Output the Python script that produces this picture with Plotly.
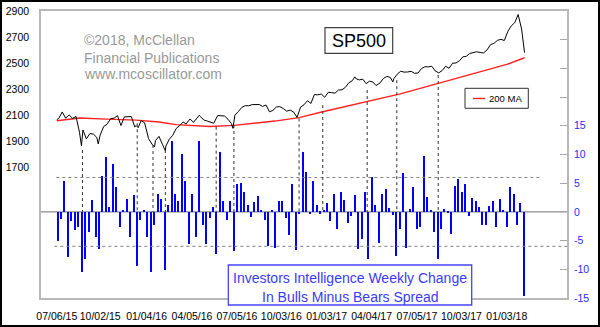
import pandas as pd
import plotly.graph_objects as go

# ---- S&P 500 closes (weekly, plus a few daily turning points) ----
sp_dates = [
    "2015-07-06", "2015-07-10", "2015-07-17", "2015-07-24", "2015-07-31", "2015-08-07",
    "2015-08-14", "2015-08-21", "2015-08-25", "2015-08-28", "2015-09-04", "2015-09-11",
    "2015-09-18", "2015-09-25", "2015-09-28", "2015-10-02", "2015-10-09", "2015-10-16",
    "2015-10-23", "2015-10-30", "2015-11-06", "2015-11-13", "2015-11-20", "2015-11-27",
    "2015-12-04", "2015-12-11", "2015-12-14", "2015-12-18", "2015-12-24", "2015-12-31",
    "2016-01-08", "2016-01-15", "2016-01-20", "2016-01-22", "2016-01-29", "2016-02-05",
    "2016-02-11", "2016-02-12", "2016-02-19", "2016-02-26", "2016-03-04", "2016-03-11",
    "2016-03-18", "2016-03-24", "2016-04-01", "2016-04-08", "2016-04-15", "2016-04-20",
    "2016-04-22", "2016-04-29", "2016-05-06", "2016-05-13", "2016-05-19", "2016-05-27",
    "2016-06-03", "2016-06-10", "2016-06-17", "2016-06-24", "2016-06-27", "2016-07-01",
    "2016-07-08", "2016-07-15", "2016-07-22", "2016-07-29", "2016-08-05", "2016-08-12",
    "2016-08-19", "2016-08-26", "2016-09-02", "2016-09-09", "2016-09-16", "2016-09-23",
    "2016-09-30", "2016-10-07", "2016-10-14", "2016-10-21", "2016-10-28", "2016-11-04",
    "2016-11-11", "2016-11-18", "2016-11-25", "2016-12-02", "2016-12-09", "2016-12-16",
    "2016-12-23", "2016-12-30", "2017-01-06", "2017-01-13", "2017-01-20", "2017-01-27",
    "2017-02-03", "2017-02-10", "2017-02-17", "2017-02-24", "2017-03-01", "2017-03-03",
    "2017-03-10", "2017-03-17", "2017-03-24", "2017-03-31", "2017-04-07", "2017-04-13",
    "2017-04-21", "2017-04-28", "2017-05-05", "2017-05-12", "2017-05-17", "2017-05-19",
    "2017-05-26", "2017-06-02", "2017-06-09", "2017-06-16", "2017-06-23", "2017-06-30",
    "2017-07-07", "2017-07-14", "2017-07-21", "2017-07-28", "2017-08-04", "2017-08-11",
    "2017-08-18", "2017-08-25", "2017-09-01", "2017-09-08", "2017-09-15", "2017-09-22",
    "2017-09-29", "2017-10-06", "2017-10-13", "2017-10-20", "2017-10-27", "2017-11-03",
    "2017-11-10", "2017-11-17", "2017-11-24", "2017-12-01", "2017-12-08", "2017-12-15",
    "2017-12-22", "2017-12-29", "2018-01-05", "2018-01-12", "2018-01-19", "2018-01-26",
    "2018-02-02", "2018-02-05", "2018-02-08",
]
sp_close = [
    2068, 2077, 2127, 2079, 2104, 2078,
    2092, 1971, 1868, 1989, 1921, 1961,
    1958, 1932, 1882, 1951, 2015, 2033,
    2075, 2079, 2099, 2023, 2089, 2090,
    2092, 2012, 2022, 2006, 2061, 2044,
    1922, 1880, 1859, 1907, 1940, 1880,
    1829, 1865, 1918, 1948, 2000, 2022,
    2050, 2035, 2073, 2048, 2081, 2102,
    2092, 2065, 2057, 2047, 2040, 2099,
    2099, 2096, 2071, 2037, 2001, 2103,
    2130, 2162, 2175, 2174, 2183, 2184,
    2184, 2169, 2180, 2128, 2139, 2165,
    2168, 2153, 2133, 2141, 2126, 2085,
    2164, 2182, 2213, 2192, 2260, 2258,
    2264, 2239, 2277, 2275, 2271, 2295,
    2297, 2316, 2351, 2367, 2396, 2383,
    2372, 2378, 2344, 2363, 2355, 2329,
    2349, 2384, 2399, 2391, 2357, 2382,
    2416, 2439, 2432, 2433, 2438, 2423,
    2425, 2459, 2473, 2472, 2477, 2441,
    2426, 2444, 2477, 2461, 2500, 2502,
    2519, 2549, 2553, 2575, 2581, 2588,
    2582, 2579, 2602, 2642, 2652, 2675,
    2683, 2674, 2743, 2786, 2810, 2873,
    2762, 2649, 2581,
]

# ---- 200-day moving average of the S&P 500 ----
ma_dates = [
    "2015-07-06", "2015-08-21", "2015-10-15", "2015-12-14", "2016-01-29",
    "2016-03-04", "2016-05-11", "2016-06-29", "2016-09-20", "2016-11-08",
    "2016-12-26", "2017-03-26", "2017-06-01", "2017-08-17", "2017-10-20",
    "2018-01-03", "2018-02-08",
]
ma_values = [
    2060, 2080, 2072, 2064, 2050,
    2030, 2016, 2024, 2057, 2083,
    2128, 2208, 2265, 2346, 2415,
    2491, 2542,
]

# ---- Investors Intelligence: weekly change in bulls-minus-bears spread ----
ii_first_week = "2015-07-08"
ii_change = [
    -5.1, -1.3, 5.3, -7.8, -1.5, -3.2, -2.6, -10.4, -8.2, -3.5,
    2.1, -4.4, -6.4, 6.2, 9.5, 0.9, 8.4, 4.3, -2.6, 0.3,
    2.2, -4.4, 2.9, -9.4, -1.4, 0.3, -4.3, -10.4, -2.3, 3.1,
    2.2, -10.2, 1.2, 12.3, 3.1, 1.9, 10.1, 5.4, -5.6, 3.2,
    -4.4, 12.3, -2.3, -5.6, -1.1, 0.9, -7.3, 10.4, 1.9, -1.4,
    1.9, -6.8, 4.9, 5.1, 3.4, 1.2, -0.9, 1.8, 2.8, 0.4,
    -1.4, -6.0, 0.2, -6.3, 1.9, 1.9, -1.1, -4.1, 4.9, -6.7,
    -0.4, 10.4, 6.9, -0.4, 5.3, 1.2, -0.3, 0.2, 1.5, -1.6,
    3.1, -2.9, 3.5, 2.0, -2.0, -0.8, 2.9, -6.4, -4.7, 3.5,
    -8.2, 6.1, 1.2, -5.4, 3.1, 4.0, 0.7, -0.6, -7.6, -3.0,
    6.7, -6.3, 0.5, 4.3, -2.9, -2.6, 9.7, 2.6, 0.2, -3.5,
    -8.2, -2.9, 0.5, -0.2, -3.8, 4.6, 5.7, 3.4, 4.9, -0.8,
    2.4, 1.9, 0.9, -2.2, -2.3, 1.1, 1.9, -2.6, 2.3, 0.2,
    -2.6, 4.3, 3.1, -2.3, 1.6, -14.6,
]
ii_dates = pd.date_range(ii_first_week, periods=len(ii_change), freq="7D")

# ---- marked price lows and the level each marker starts from ----
low_dates = [
    "2015-08-27", "2015-12-16", "2016-01-17", "2016-02-11", "2016-05-24", "2016-06-29",
    "2016-11-08", "2016-12-26", "2017-03-26", "2017-05-25", "2017-08-17",
]
low_levels = [1835, 2040, 1874, 1835, 2014, 2027, 2078, 2180, 2295, 2370, 2410]

# extreme-reading bands for the spread change
band_levels = [6, -6]

# ---- axes ----
x_tick_dates = [
    "2015-07-06", "2015-10-02", "2016-01-04", "2016-04-05", "2016-07-05", "2016-10-03",
    "2017-01-03", "2017-04-04", "2017-07-05", "2017-10-03", "2018-01-03",
]
x_tick_text = [
    "07/06/15", "10/02/15", "01/04/16", "04/05/16", "07/05/16", "10/03/16",
    "01/03/17", "04/04/17", "07/05/17", "10/03/17", "01/03/18",
]
left_ticks = [1700, 1900, 2100, 2300, 2500, 2700, 2900]
right_ticks = [-15, -10, -5, 0, 5, 10, 15, 20, 25, 30]
right_tick_text = ["-15", "-10", "-5", "0", "5", "10", "15", "", "", ""]

X_RANGE = ["2015-06-04", "2018-05-05"]
Y_RANGE = [702, 2900]
Y2_RANGE = [-15, 35]

W, H = 600, 327
ML, MR, MT, MB = 41, 33, 11, 29
PW, PH = W - ML - MR, H - MT - MB


def px(x):
    return (x - ML) / PW


def py(y):
    return 1 - (y - MT) / PH


FONT = "Arial, 'Liberation Sans', sans-serif"
BLUE = "#0000ff"

fig = go.Figure()

fig.add_trace(go.Bar(
    x=ii_dates, y=ii_change, yaxis="y2",
    marker=dict(color=BLUE, line=dict(width=0)),
    width=2.8 * 86400000, showlegend=False, hoverinfo="skip",
))
fig.add_trace(go.Scatter(
    x=ma_dates, y=ma_values, mode="lines",
    line=dict(color="#ff2020", width=1.4), showlegend=False,
))
fig.add_trace(go.Scatter(
    x=sp_dates, y=sp_close, mode="lines",
    line=dict(color="#000000", width=1), showlegend=False,
))

shapes = []
# zero line of the spread axis
shapes.append(dict(type="line", xref="paper", yref="y2", x0=0, x1=1, y0=0, y1=0,
                   line=dict(color="#707070", width=1), layer="below"))
# +/- bands
band_ends = ["2018-03-16", X_RANGE[1]]
band_starts = ["2015-07-05", "2015-07-01"]
for lvl, x0, x1 in zip(band_levels, band_starts, band_ends):
    shapes.append(dict(type="line", xref="x", yref="y2", x0=x0, x1=x1, y0=lvl, y1=lvl,
                       line=dict(color="#808080", width=1, dash="dot")))

# vertical markers: from the price low down to the zero line of the spread axis
zero_on_left = Y_RANGE[0] + (0 - Y2_RANGE[0]) / (Y2_RANGE[1] - Y2_RANGE[0]) * (Y_RANGE[1] - Y_RANGE[0])
for d, lvl in zip(low_dates, low_levels):
    shapes.append(dict(type="line", xref="x", yref="y", x0=d, x1=d, y0=lvl, y1=zero_on_left,
                       line=dict(color="#303030", width=1, dash="dot")))

# SP500 title box
shapes.append(dict(type="rect", xref="paper", yref="paper",
                   x0=px(325), x1=px(392.7), y0=py(53.3), y1=py(27.7),
                   line=dict(color="#404040", width=1.2), fillcolor="white"))
# legend box for the moving average
shapes.append(dict(type="rect", xref="paper", yref="paper",
                   x0=px(465), x1=px(528.3), y0=py(108.3), y1=py(88.3),
                   line=dict(color="#303030", width=1), fillcolor="white"))
shapes.append(dict(type="line", xref="paper", yref="paper",
                   x0=px(473), x1=px(485), y0=py(98.5), y1=py(98.5),
                   line=dict(color="#ff2020", width=1.4)))
# caption box
shapes.append(dict(type="rect", xref="paper", yref="paper",
                   x0=px(228.3), x1=px(471.7), y0=py(305), y1=py(265),
                   line=dict(color="#4444ff", width=1.3), fillcolor="white"))
# outer frame of the whole figure
shapes.append(dict(type="rect", xref="paper", yref="paper",
                   x0=px(1), x1=px(599), y0=py(326), y1=py(1),
                   line=dict(color="#000000", width=2)))

annotations = []
for text, yc in [("©2018, McClellan", 40), ("Financial Publications", 57.5), ("www.mcoscillator.com", 74)]:
    annotations.append(dict(text=text, xref="paper", yref="paper", x=px(82), y=py(yc),
                            xanchor="left", yanchor="middle", showarrow=False,
                            font=dict(family=FONT, size=14, color="#999999")))
annotations.append(dict(text="SP500", xref="paper", yref="paper", x=px(358.8), y=py(40.5),
                        xanchor="center", yanchor="middle", showarrow=False,
                        font=dict(family=FONT, size=18, color="#000000")))
annotations.append(dict(text="200 MA", xref="paper", yref="paper", x=px(487), y=py(98.5),
                        xanchor="left", yanchor="middle", showarrow=False,
                        font=dict(family=FONT, size=9.5, color="#000000")))
for text, yc in [("Investors Intelligence Weekly Change", 277.5), ("In Bulls Minus Bears Spread", 296.5)]:
    annotations.append(dict(text=text, xref="paper", yref="paper", x=px(350), y=py(yc),
                            xanchor="center", yanchor="middle", showarrow=False,
                            font=dict(family=FONT, size=14, color="#3a3aff")))

fig.update_layout(
    width=W, height=H,
    margin=dict(l=ML, r=MR, t=MT, b=MB, pad=0, autoexpand=False),
    paper_bgcolor="white", plot_bgcolor="white",
    showlegend=False, bargap=0,
    font=dict(family=FONT, size=10.5, color="#000000"),
    xaxis=dict(
        type="date", range=X_RANGE, tickvals=x_tick_dates, ticktext=x_tick_text,
        tickangle=0, automargin=False,
        showgrid=False, zeroline=False, showline=True, mirror=True,
        linecolor="#b8b8b8", linewidth=1.5, ticks="", ticklabelstandoff=8,
        tickfont=dict(family=FONT, size=10.5, color="#000000"),
    ),
    yaxis=dict(
        range=Y_RANGE, tickvals=left_ticks, showgrid=False, zeroline=False,
        automargin=False,
        showline=True, mirror=True, linecolor="#b8b8b8", linewidth=1.5, ticks="",
        ticklabelstandoff=8,
        tickfont=dict(family=FONT, size=10.5, color="#000000"),
    ),
    yaxis2=dict(
        range=Y2_RANGE, overlaying="y", side="right", tickvals=right_ticks,
        ticktext=right_tick_text, ticks="inside", ticklen=7, tickcolor="#a8a8a8",
        automargin=False,
        showgrid=False, zeroline=False, showline=False, ticklabelstandoff=6,
        tickfont=dict(family=FONT, size=10.5, color="#2a2aff"),
    ),
    shapes=shapes, annotations=annotations,
)

fig.write_html("out.html")
